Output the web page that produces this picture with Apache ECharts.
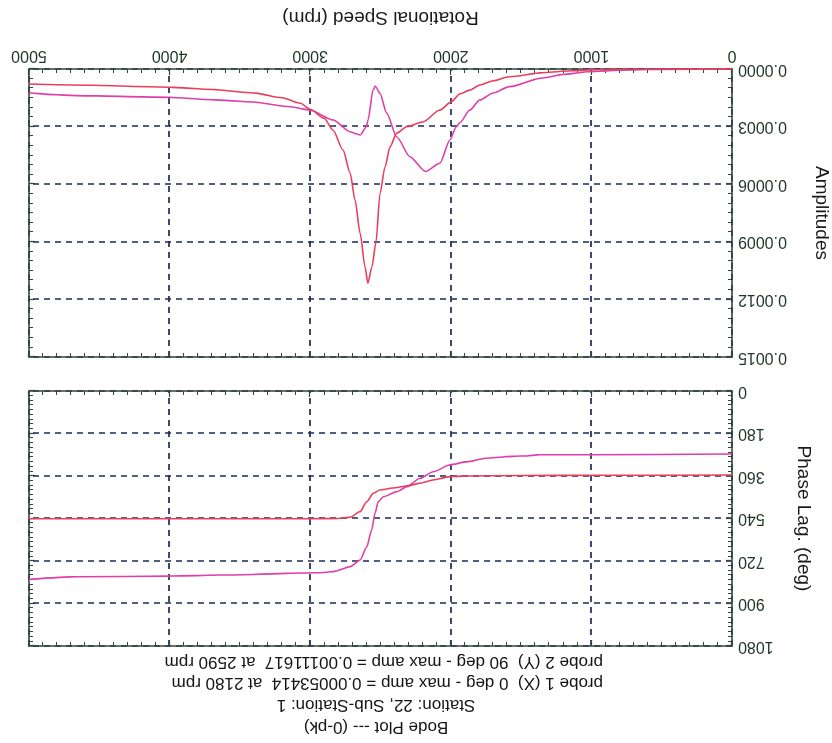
<!DOCTYPE html>
<html>
<head>
<meta charset="utf-8">
<script src="https://cdn.jsdelivr.net/npm/echarts@6/dist/echarts.min.js"></script>
<style>
  html, body { margin: 0; padding: 0; background: #ffffff; }
  /* the whole plot sheet is printed upside down */
  #chart { width: 832px; height: 743px; transform: rotate(180deg); }
</style>
</head>
<body>
<div id="chart"></div>
<script>
// ---- axis ticks ----
const speedTicks = [0, 1000, 2000, 3000, 4000, 5000];
const ampTicks = [0, 0.0003, 0.0006, 0.0009, 0.0012, 0.0015];
const phaseTicks = [0, 180, 360, 540, 720, 900, 1080];

// ---- probe 1 (X), 0 deg ----
const ampRpmX = [5000, 4600, 4000, 3700, 3404, 3142, 3000, 2837, 2716, 2645, 2600, 2589, 2553, 2537, 2504, 2456, 2385, 2291, 2180, 2078, 2007, 1960, 1936, 1865, 1794, 1700, 1582, 1348, 1200, 1014, 800, 500, 0];
const ampX    = [0.000125, 0.000140, 0.000148, 0.000160, 0.000172, 0.000197, 0.000214, 0.000266, 0.000327, 0.000344, 0.000300, 0.000266, 0.000110, 0.000089, 0.000127, 0.000230, 0.000353, 0.000457, 0.00053414, 0.000491, 0.000370, 0.000300, 0.000280, 0.000214, 0.000162, 0.000125, 0.000092, 0.000047, 0.000028, 0.000014, 0.000006, 0.000002, 0];
const phaseRpmX = [5000, 4655, 3993, 3546, 3142, 2929, 2837, 2716, 2645, 2598, 2563, 2539, 2516, 2480, 2385, 2312, 2220, 2125, 2007, 1889, 1747, 1605, 1463, 1370, 1000, 0];
const phaseX    = [798, 787, 784, 779, 772, 770, 765, 744, 716, 660, 589, 518, 469, 448, 427, 405, 370, 342, 313, 300, 285, 278, 275, 270, 270, 267];

// ---- probe 2 (Y), 90 deg ----
const ampRpmY = [5000, 4600, 4000, 3700, 3400, 3200, 3071, 3000, 2900, 2837, 2766, 2716, 2681, 2645, 2610, 2590, 2561, 2532, 2504, 2468, 2433, 2385, 2312, 2199, 2078, 1995, 1936, 1865, 1794, 1700, 1582, 1348, 1200, 1014, 800, 500, 0];
const ampY    = [0.000078, 0.000085, 0.000095, 0.000107, 0.000125, 0.000150, 0.000178, 0.000210, 0.000257, 0.000319, 0.000423, 0.000543, 0.000683, 0.000856, 0.001030, 0.00111617, 0.001030, 0.000900, 0.000650, 0.000510, 0.000407, 0.000334, 0.000300, 0.000276, 0.000214, 0.000170, 0.000130, 0.000110, 0.0000835, 0.000062, 0.000040, 0.0000193, 0.000012, 0.000005, 0.000002, 0.000001, 0];
const phaseRpmY = [5000, 3000, 2800, 2716, 2645, 2598, 2551, 2504, 2411, 2312, 2220, 2128, 2007, 1889, 1500, 1000, 0];
const phaseY    = [541, 541, 540, 535, 511, 469, 433, 419, 411, 402, 391, 377, 363, 360, 358, 357, 356];

const colorX = '#de3fa8';
const colorY = '#e8405c';
const frameColor = '#33463b';
const gridColor = '#1b2a58';
const labelColor = '#1f3528';
const fontFamily = '"Liberation Sans", Arial, sans-serif';

function pairs(xs, ys) { return xs.map((x, i) => [x, ys[i]]); }
function peak(xs, ys) {
  let k = 0;
  ys.forEach((v, i) => { if (v > ys[k]) k = i; });
  return { rpm: xs[k], amp: ys[k] };
}
const peakX = peak(ampRpmX, ampX);
const peakY = peak(ampRpmY, ampY);

const titleLines = [
  'Bode Plot --- (0-pk)',
  'Station: 22, Sub-Station: 1',
  'probe 1 (X)  0 deg - max amp = ' + peakX.amp.toFixed(8) + '  at ' + peakX.rpm + ' rpm',
  'probe 2 (Y)  90 deg - max amp = ' + peakY.amp.toFixed(8) + '  at ' + peakY.rpm + ' rpm'
];

const gridLeft = 100, gridRight = 29;
const plotW = 832 - gridLeft - gridRight;

function step(t) { return t[1] - t[0]; }

function xAxisDef(gridIndex, position, primary, withLabels) {
  return {
    type: 'value', gridIndex, position,
    min: speedTicks[0], max: speedTicks[speedTicks.length - 1], interval: step(speedTicks),
    axisLine: { show: true, onZero: false, lineStyle: { color: frameColor, width: 1.6 } },
    axisTick: { show: true, inside: true, length: 6, lineStyle: { color: frameColor, width: 1.2 } },
    minorTick: { show: true, splitNumber: 10, length: 4, lineStyle: { color: frameColor, width: 1 } },
    axisLabel: { show: withLabels, margin: 6, color: labelColor, fontFamily, fontSize: 16,
                 formatter: v => String(v), showMinLabel: true, showMaxLabel: true },
    splitLine: { show: primary, lineStyle: { color: gridColor, width: 1.7, type: [6, 5] } },
    name: withLabels ? 'Rotational Speed (rpm)' : '',
    nameLocation: 'middle', nameGap: 42,
    nameTextStyle: { color: '#1a1a1a', fontFamily, fontSize: 19 }
  };
}

function yAxisDef(gridIndex, position, primary, ticks, minorSplit, name, nameGap, fmt) {
  return {
    type: 'value', gridIndex, position,
    min: ticks[0], max: ticks[ticks.length - 1], interval: step(ticks),
    axisLine: { show: true, onZero: false, lineStyle: { color: frameColor, width: 1.6 } },
    axisTick: { show: true, inside: true, length: 6, lineStyle: { color: frameColor, width: 1.2 } },
    minorTick: { show: true, splitNumber: minorSplit, length: 4, lineStyle: { color: frameColor, width: 1 } },
    axisLabel: { show: primary, margin: 6, color: labelColor, fontFamily, fontSize: 16,
                 formatter: fmt, showMinLabel: true, showMaxLabel: true },
    splitLine: { show: primary, lineStyle: { color: gridColor, width: 1.7, type: [6, 5] } },
    name: primary ? name : '',
    nameLocation: 'middle', nameGap,
    nameTextStyle: { color: '#1a1a1a', fontFamily, fontSize: 19 }
  };
}

const chart = echarts.init(document.getElementById('chart'), null, { renderer: 'canvas' });

chart.setOption({
  backgroundColor: '#ffffff',
  animation: false,
  grid: [
    { left: gridLeft, top: 97, width: plotW, height: 255, containLabel: false, outerBoundsMode: 'none' },
    { left: gridLeft, top: 386, width: plotW, height: 288, containLabel: false, outerBoundsMode: 'none' }
  ],
  xAxis: [
    xAxisDef(0, 'bottom', true, false),
    xAxisDef(0, 'top', false, false),
    xAxisDef(1, 'bottom', true, true),
    xAxisDef(1, 'top', false, false)
  ],
  yAxis: [
    yAxisDef(0, 'left', true, phaseTicks, 9, 'Phase Lag. (deg)', 62, v => String(v)),
    yAxisDef(0, 'right', false, phaseTicks, 9, '', 0, v => String(v)),
    yAxisDef(1, 'left', true, ampTicks, 6, 'Amplitudes', 80, v => v.toFixed(4)),
    yAxisDef(1, 'right', false, ampTicks, 6, '', 0, v => v.toFixed(4))
  ],
  graphic: titleLines.map((t, i) => ({
    type: 'text',
    x: i < 2 ? 456 : 229,
    y: [16, 38, 60, 81][i],
    style: {
      text: t,
      textAlign: i < 2 ? 'center' : 'left',
      textVerticalAlign: 'middle',
      fill: '#141414',
      font: '17px ' + fontFamily
    }
  })),
  series: [
    { name: 'probe 1 phase', type: 'line', xAxisIndex: 0, yAxisIndex: 0, data: pairs(phaseRpmX, phaseX),
      showSymbol: false, smooth: 0.25, smoothMonotone: 'x', lineStyle: { color: colorX, width: 1.6 }, z: 3 },
    { name: 'probe 2 phase', type: 'line', xAxisIndex: 0, yAxisIndex: 0, data: pairs(phaseRpmY, phaseY),
      showSymbol: false, smooth: 0.25, smoothMonotone: 'x', lineStyle: { color: colorY, width: 1.6 }, z: 3 },
    { name: 'probe 1 amp', type: 'line', xAxisIndex: 2, yAxisIndex: 2, data: pairs(ampRpmX, ampX),
      showSymbol: false, smooth: 0.25, smoothMonotone: 'x', lineStyle: { color: colorX, width: 1.6 }, z: 3 },
    { name: 'probe 2 amp', type: 'line', xAxisIndex: 2, yAxisIndex: 2, data: pairs(ampRpmY, ampY),
      showSymbol: false, smooth: 0.25, smoothMonotone: 'x', lineStyle: { color: colorY, width: 1.6 }, z: 3 }
  ]
});
</script>
</body>
</html>
